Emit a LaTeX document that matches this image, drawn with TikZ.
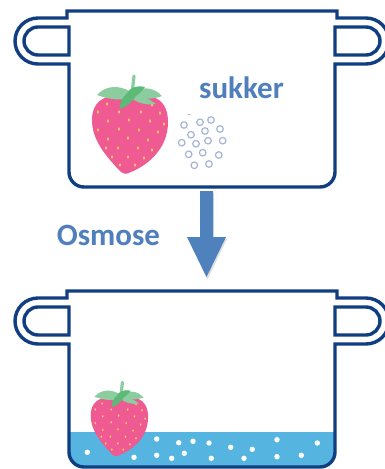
\documentclass[tikz,border=0pt]{standalone}
\usepackage{fontspec}
\setmainfont{Carlito}
\definecolor{potblue}{RGB}{16,62,128}
\definecolor{labelblue}{RGB}{79,127,189}
\definecolor{arrowblue}{RGB}{79,129,189}
\definecolor{waterblue}{RGB}{86,181,224}
\definecolor{berrypink}{RGB}{238,90,145}
\definecolor{seedyellow}{RGB}{246,202,102}
\definecolor{leaflight}{RGB}{140,205,160}
\definecolor{leafdark}{RGB}{92,186,118}
\definecolor{sugarring}{RGB}{165,180,215}
\tikzset{
  potline/.style={draw=potblue, line width=3.4pt},
  label/.style={text=labelblue, font=\fontsize{31}{31}\selectfont\bfseries, inner sep=0pt, anchor=base},
  seed/.style={fill=seedyellow, x radius=1.2, y radius=1.8},
  sugar/.style={draw=sugarring, line width=1.2pt},
  bubble/.style={fill=white},
  % saucepan with two handles, drawn from the top of its rim
  cookpot/.pic={
    \draw[potline] (69,53) -- (38,53) arc[start angle=90,end angle=270,radius=23]
      -- (67,7) -- (67,0) -- (337,0) -- (337,7)
      -- (366,7) arc[start angle=-90,end angle=90,radius=23] -- (335,53)
      -- (335,161) arc[start angle=0,end angle=90,radius=15]
      -- (84,176) arc[start angle=90,end angle=180,radius=15] -- cycle;
    \draw[potline] (69,16) -- (38,16) arc[start angle=270,end angle=90,radius=14] -- (69,44) -- cycle;
    \draw[potline] (335,16) -- (366,16) arc[start angle=-90,end angle=90,radius=14] -- (335,44) -- cycle;
  },
  % strawberry, origin at the middle of its body
  berry/.pic={
    \begin{scope}[shift={(-130,-134.5)}]
      \fill[berrypink] (130,98) .. controls (145,93) and (168,94) .. (168,122)
        .. controls (168,150) and (146,166) .. (131,172)
        .. controls (126,175) and (122,174) .. (118,169)
        .. controls (106,156) and (92,140) .. (92,120)
        .. controls (92,94) and (117,93) .. (130,98) -- cycle;
      \foreach \sx/\sy in {107/104,152/105,
          98/112,119/112,141/112,160/113,
          108/121,129/120,150/121,164/124,
          98/130,119/129,139/130,158/132,
          108/139,128/138,148/140,
          106/148,118/148,138/148,152/150,
          112/157,128/157,144/158,
          120/165,135/165}
        \fill[seed] (\sx,\sy) ellipse[];
      \draw[leaflight, line width=3.2pt, line cap=round] (132,94) -- (134,76);
      \fill[leaflight] (131,92) .. controls (118,84) and (105,86) .. (97,95)
        .. controls (110,100) and (124,101) .. (131,97) -- cycle;
      \fill[leaflight] (133,92) .. controls (145,85) and (156,89) .. (162,96)
        .. controls (152,100) and (140,99) .. (133,97) -- cycle;
      \fill[leaflight] (133,93) .. controls (141,95) and (149,99) .. (156,104)
        .. controls (145,106) and (137,102) .. (131,98) -- cycle;
      \fill[leafdark] (126,96) .. controls (128,88) and (136,85) .. (145,87)
        .. controls (141,93) and (135,97) .. (130,99) -- cycle;
      \fill[leafdark] (127,93) .. controls (122,98) and (119,104) .. (120,109)
        .. controls (128,106) and (134,100) .. (137,94) -- cycle;
    \end{scope}
  }
}
\begin{document}
\begin{tikzpicture}[x=1pt,y=-1pt]
  \path[use as bounding box, fill=white] (0,0) rectangle (384,469);

  % ---- before: strawberry beside dry sugar ----
  \pic (potA) at (0,11) {cookpot};
  \pic (berryA) at (130,134.5) {berry};
  \node[label] (sukker) at (241.5,98.5) {sukker};
  \begin{scope}
    \clip (170,114) rectangle (235,175);
    \foreach \cx/\cy in {189/111,220/110,
        184/125,200/122.3,211/120,220/129,205/131,191/134.7,
        181.7/142.7,196/143.7,208/140.7,222.7/140.7,
        188.7/154.3,202.7/152.7,218.7/155,194.3/165.3,209/164}
      \draw[sugar] (\cx,\cy) circle[radius=3.3];
  \end{scope}

  % ---- osmosis arrow ----
  \fill[black!25, opacity=0.5] (201,193) -- (214,193) -- (214,239) -- (227,239)
    -- (207.5,279.5) -- (188,239) -- (201,239) -- cycle;
  \fill[arrowblue] (200,191) -- (213,191) -- (213,237) -- (226,237)
    -- (206.5,277) -- (187,237) -- (200,237) -- cycle;
  \node[label] (osmose) at (108.5,245.5) {Osmose};

  % ---- after: strawberry in syrup ----
  \fill[waterblue] (69,432) -- (69,452) arc[start angle=180,end angle=90,radius=15]
    -- (320,467) arc[start angle=90,end angle=0,radius=15] -- (335,432) -- cycle;
  \foreach \dx/\dy in {87.3/452.3,134/457.3,156.7/439,156.7/455.3,171.7/458.3,
      178.7/442.7,184.3/453.3,193/441.3,209/443,211.3/458.3,230.7/447.3,
      244/458.3,252.3/449.3,277/439.7,277/456.7,301.3/455.3,317.3/443}
    \fill[bubble] (\dx,\dy) circle[radius=2.7];
  \pic (potB) at (0,291) {cookpot};
  \pic[scale=0.755] (berryB) at (119.4,426.5) {berry};
\end{tikzpicture}
\end{document}
